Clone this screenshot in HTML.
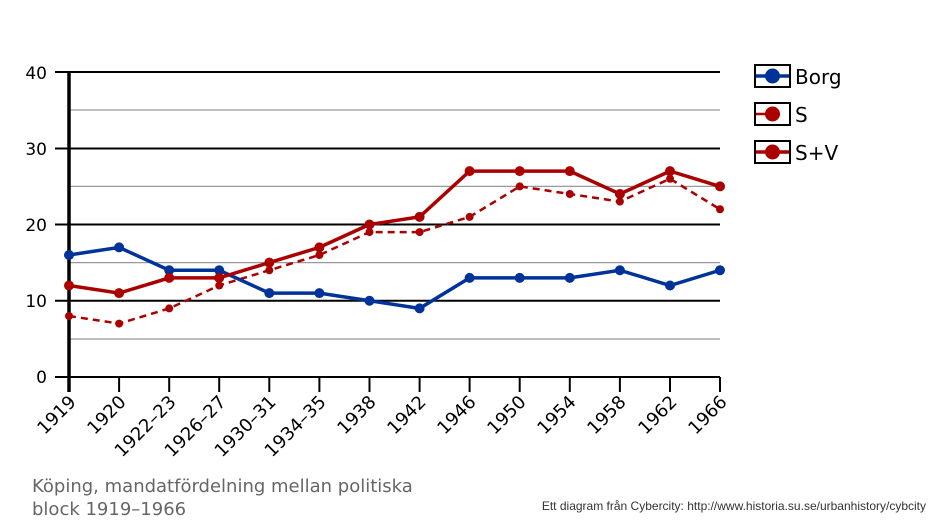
<!DOCTYPE html>
<html><head><meta charset="utf-8"><style>
body{margin:0;background:#fff}
svg{display:block;font-family:"DejaVu Sans","Liberation Sans",sans-serif}
</style></head><body>
<svg width="938" height="521" viewBox="0 0 938 521">
<g stroke="#999" stroke-width="1.2">
<line x1="69" y1="339" x2="720" y2="339"/><line x1="69" y1="262.6" x2="720" y2="262.6"/>
<line x1="69" y1="186.4" x2="720" y2="186.4"/><line x1="69" y1="110" x2="720" y2="110"/>
</g>
<g stroke="#000" stroke-width="2">
<line x1="55" y1="72" x2="720" y2="72"/><line x1="55" y1="148.5" x2="720" y2="148.5"/>
<line x1="55" y1="224.5" x2="720" y2="224.5"/><line x1="55" y1="300.75" x2="720" y2="300.75"/>
<line x1="55" y1="377" x2="720" y2="377"/>
</g>
<line x1="69" y1="72" x2="69" y2="392" stroke="#000" stroke-width="3.5"/>
<g stroke="#000" stroke-width="2">
<line x1="119.1" y1="377" x2="119.1" y2="392"/><line x1="169.2" y1="377" x2="169.2" y2="392"/><line x1="219.2" y1="377" x2="219.2" y2="392"/><line x1="269.3" y1="377" x2="269.3" y2="392"/><line x1="319.4" y1="377" x2="319.4" y2="392"/><line x1="369.5" y1="377" x2="369.5" y2="392"/><line x1="419.6" y1="377" x2="419.6" y2="392"/><line x1="469.6" y1="377" x2="469.6" y2="392"/><line x1="519.7" y1="377" x2="519.7" y2="392"/><line x1="569.8" y1="377" x2="569.8" y2="392"/><line x1="619.9" y1="377" x2="619.9" y2="392"/><line x1="670" y1="377" x2="670" y2="392"/><line x1="720" y1="377" x2="720" y2="392"/>
</g>
<g font-size="17" text-anchor="end" fill="#000">
<text x="47" y="383">0</text><text x="47" y="307">10</text><text x="47" y="231">20</text><text x="47" y="155">30</text><text x="47" y="79">40</text>
</g>
<g font-size="18" text-anchor="end" fill="#000">
<text transform="translate(77,403) rotate(-45)">1919</text>
<text transform="translate(127,403) rotate(-45)">1920</text>
<text transform="translate(177,403) rotate(-45)">1922–23</text>
<text transform="translate(227,403) rotate(-45)">1926–27</text>
<text transform="translate(277,403) rotate(-45)">1930–31</text>
<text transform="translate(327,403) rotate(-45)">1934–35</text>
<text transform="translate(377,403) rotate(-45)">1938</text>
<text transform="translate(427,403) rotate(-45)">1942</text>
<text transform="translate(477,403) rotate(-45)">1946</text>
<text transform="translate(527,403) rotate(-45)">1950</text>
<text transform="translate(577,403) rotate(-45)">1954</text>
<text transform="translate(627,403) rotate(-45)">1958</text>
<text transform="translate(678,403) rotate(-45)">1962</text>
<text transform="translate(728,403) rotate(-45)">1966</text>
</g>
<polyline fill="none" stroke="#a00" stroke-width="2.5" stroke-dasharray="7,5" points="69,316 119.1,323.6 169.2,308.4 219.2,285.5 269.3,270.25 319.4,255 369.5,232.1 419.6,232.1 469.6,216.9 519.7,186.4 569.8,194 619.9,201.6 670,178.75 720,209.25"/>
<g fill="#a00"><circle cx="69" cy="316" r="4"/><circle cx="119.1" cy="323.6" r="4"/><circle cx="169.2" cy="308.4" r="4"/><circle cx="219.2" cy="285.5" r="4"/><circle cx="269.3" cy="270.25" r="4"/><circle cx="319.4" cy="255" r="4"/><circle cx="369.5" cy="232.1" r="4"/><circle cx="419.6" cy="232.1" r="4"/><circle cx="469.6" cy="216.9" r="4"/><circle cx="519.7" cy="186.4" r="4"/><circle cx="569.8" cy="194" r="4"/><circle cx="619.9" cy="201.6" r="4"/><circle cx="670" cy="178.75" r="4"/><circle cx="720" cy="209.25" r="4"/></g>
<polyline fill="none" stroke="#039" stroke-width="3.5" points="69,255 119.1,247.4 169.2,270.25 219.2,270.25 269.3,293.1 319.4,293.1 369.5,300.75 419.6,308.4 469.6,277.9 519.7,277.9 569.8,277.9 619.9,270.25 670,285.5 720,270.25"/>
<g fill="#039"><circle cx="69" cy="255" r="5"/><circle cx="119.1" cy="247.4" r="5"/><circle cx="169.2" cy="270.25" r="5"/><circle cx="219.2" cy="270.25" r="5"/><circle cx="269.3" cy="293.1" r="5"/><circle cx="319.4" cy="293.1" r="5"/><circle cx="369.5" cy="300.75" r="5"/><circle cx="419.6" cy="308.4" r="5"/><circle cx="469.6" cy="277.9" r="5"/><circle cx="519.7" cy="277.9" r="5"/><circle cx="569.8" cy="277.9" r="5"/><circle cx="619.9" cy="270.25" r="5"/><circle cx="670" cy="285.5" r="5"/><circle cx="720" cy="270.25" r="5"/></g>
<polyline fill="none" stroke="#a00" stroke-width="3.5" points="69,285.5 119.1,293.1 169.2,277.9 219.2,277.9 269.3,262.6 319.4,247.4 369.5,224.5 419.6,216.9 469.6,171.1 519.7,171.1 569.8,171.1 619.9,194 670,171.1 720,186.4"/>
<g fill="#a00"><circle cx="69" cy="285.5" r="5"/><circle cx="119.1" cy="293.1" r="5"/><circle cx="169.2" cy="277.9" r="5"/><circle cx="219.2" cy="277.9" r="5"/><circle cx="269.3" cy="262.6" r="5"/><circle cx="319.4" cy="247.4" r="5"/><circle cx="369.5" cy="224.5" r="5"/><circle cx="419.6" cy="216.9" r="5"/><circle cx="469.6" cy="171.1" r="5"/><circle cx="519.7" cy="171.1" r="5"/><circle cx="569.8" cy="171.1" r="5"/><circle cx="619.9" cy="194" r="5"/><circle cx="670" cy="171.1" r="5"/><circle cx="720" cy="186.4" r="5"/></g>
<g stroke="#000" stroke-width="2" fill="#fff">
<rect x="755" y="65" width="35" height="22"/><rect x="755" y="103" width="35" height="22"/><rect x="755" y="141" width="35" height="22"/>
</g>
<line x1="756" y1="76" x2="789" y2="76" stroke="#039" stroke-width="3.5"/><circle cx="772.5" cy="76" r="7.5" fill="#039"/>
<line x1="756" y1="114" x2="772" y2="114" stroke="#a00" stroke-width="2.5"/><circle cx="772.5" cy="114" r="7.5" fill="#a00"/>
<line x1="756" y1="152" x2="789" y2="152" stroke="#a00" stroke-width="3.5"/><circle cx="772.5" cy="152" r="7.5" fill="#a00"/>
<g font-size="20" fill="#000"><text x="795" y="84">Borg</text><text x="795" y="122">S</text><text x="795" y="160">S+V</text></g>
<g font-size="18" fill="#666"><text x="32" y="492">Köping, mandatfördelning mellan politiska</text><text x="32" y="515">block 1919–1966</text></g>
<text x="926" y="510" font-size="12" fill="#333" text-anchor="end" font-family="Liberation Sans,sans-serif">Ett diagram från Cybercity: http://www.historia.su.se/urbanhistory/cybcity</text>
</svg>
</body></html>
